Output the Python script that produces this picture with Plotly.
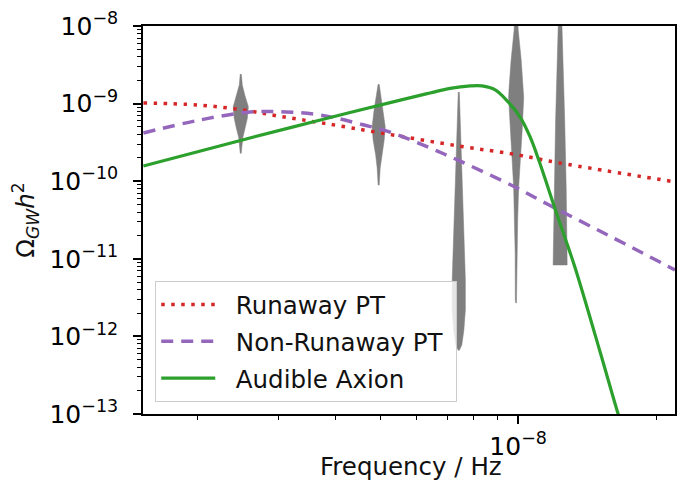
import numpy as np
import plotly.graph_objects as go

# ---------------- data ----------------
runaway_f = [1.52e-9, 2.0e-9, 2.5e-9, 3.0e-9, 3.75e-9, 5.0e-9, 7.4e-9, 9.9e-9, 1.23e-8, 2.2e-8]
runaway_omega = [1.02e-9, 9.6e-10, 8.3e-10, 6.9e-10, 5.6e-10, 4.2e-10, 2.85e-10, 2.2e-10, 1.72e-10, 9.8e-11]

nonrunaway_f = [1.52e-9, 2.02e-9, 2.6e-9, 3.11e-9, 3.57e-9, 4.0e-9, 4.56e-9, 5.25e-9,
                6.42e-9, 7.54e-9, 9.85e-9, 1.163e-8, 1.40e-8, 1.713e-8, 2.2e-8]
nonrunaway_omega = [4.18e-10, 6.15e-10, 7.8e-10, 7.8e-10, 7.34e-10, 6.52e-10, 5.38e-10, 4.3e-10,
                    2.68e-10, 1.77e-10, 8.41e-11, 5.0e-11, 2.85e-11, 1.55e-11, 7.18e-12]

axion_f = [1.52e-9, 2.5e-9, 3.7e-9, 5.53e-9, 6.42e-9, 7.10e-9, 7.86e-9, 8.34e-9, 8.91e-9, 9.51e-9,
           1.01e-8, 1.062e-8, 1.111e-8, 1.157e-8, 1.204e-8, 1.266e-8, 1.332e-8, 1.51e-8, 1.653e-8, 1.738e-8]
axion_omega = [1.57e-10, 3.4e-10, 6.15e-10, 1.11e-9, 1.37e-9, 1.57e-9, 1.69e-9, 1.69e-9, 1.50e-9, 1.05e-9,
               6.71e-10, 3.72e-10, 1.82e-10, 8.93e-11, 4.38e-11, 1.85e-11, 7.6e-12, 6.3e-13, 1.0e-13, 3.9e-14]

series_names = ["Runaway PT", "Non-Runaway PT", "Audible Axion"]
x_title = "Frequency / Hz"
y_title = "Ω<sub><i>GW</i></sub><i>h</i><sup>2</sup>"

# violins: frequency bins, log10(Omega) levels and relative density (1 = widest)
violin_freqs = [2.48e-9, 4.96e-9, 7.42e-9, 9.9e-9, 1.235e-8]
violin_levels = [
    [-8.62, -8.76, -8.89, -9.04, -9.19, -9.31, -9.44, -9.57, -9.64],
    [-8.75, -8.89, -9.08, -9.30, -9.47, -9.66, -9.83, -10.05],
    [-8.85, -9.21, -9.99, -10.50, -10.89, -11.27, -11.66, -11.92, -12.11, -12.18],
    [-7.86, -8.05, -8.44, -8.79, -8.92, -9.34, -9.73, -10.08, -10.50, -10.93, -11.53, -11.57],
    [-7.86, -8.05, -9.21, -10.08, -11.08],
]
violin_density = [
    [0.07, 0.2, 0.53, 1.0, 0.87, 0.6, 0.27, 0.13, 0.07],
    [0.07, 0.27, 0.6, 0.87, 0.73, 0.4, 0.2, 0.07],
    [0.07, 0.2, 0.4, 0.6, 0.73, 0.87, 0.87, 0.67, 0.4, 0.07],
    [0.2, 0.27, 0.67, 0.93, 1.0, 0.8, 0.53, 0.33, 0.2, 0.13, 0.11, 0.04],
    [0.2, 0.27, 0.6, 0.8, 0.93],
]

x_ticks = [1e-8]
x_ticktext = ["10<sup>−8</sup>"]
y_ticks = [1e-13, 1e-12, 1e-11, 1e-10, 1e-9, 1e-8]
y_ticktext = ["10<sup>−13</sup>", "10<sup>−12</sup>", "10<sup>−11</sup>",
              "10<sup>−10</sup>", "10<sup>−9</sup>", "10<sup>−8</sup>"]

# ---------------- styling ----------------
FONT = "DejaVu Sans"
FS = 24.5
TICK_FS = 25
VIOLIN_HALF = 0.0165  # decades of frequency at density 1
NB = "\u00a0\u00a0"  # gap between legend sample and label
fig = go.Figure()

for f0, lev, dens in zip(violin_freqs, violin_levels, violin_density):
    lev = np.array(lev)
    d = np.array(dens)
    xr = f0 * 10 ** (d * VIOLIN_HALF)
    xl = f0 * 10 ** (-d * VIOLIN_HALF)
    xs = np.concatenate([xr, xl[::-1]])
    ys = 10 ** np.concatenate([lev, lev[::-1]])
    fig.add_trace(go.Scatter(x=xs, y=ys, mode="lines", fill="toself",
                             fillcolor="#7f7f7f", line=dict(color="#7f7f7f", width=0.5),
                             showlegend=False, hoverinfo="skip"))

fig.add_trace(go.Scatter(x=runaway_f, y=runaway_omega, mode="lines", name=NB + series_names[0] + "\u00a0",
                         legendgroup="a",
                         line=dict(color="#d62728", width=3.5, dash="3.5px,6.5px", shape="spline")))
fig.add_trace(go.Scatter(x=nonrunaway_f, y=nonrunaway_omega, mode="lines", name=NB + series_names[1] + "\u00a0",
                         legendgroup="b",
                         line=dict(color="#9467bd", width=3.5, dash="12px,8px", shape="spline")))
fig.add_trace(go.Scatter(x=axion_f, y=axion_omega, mode="lines", name=NB + series_names[2] + "\u00a0",
                         legendgroup="c",
                         line=dict(color="#2ca02c", width=3.2, shape="spline")))

x_minor = [k * 1e-9 for k in range(2, 10)] + [2e-8]
y_minor = [k * 10.0 ** e for e in range(-13, -8) for k in range(2, 10)]

axis_common = dict(type="log", showline=True, mirror=True, linecolor="black", linewidth=1.6,
                   ticks="outside", ticklen=8, tickwidth=1.6, tickcolor="black",
                   showgrid=False, zeroline=False,
                   tickfont=dict(family=FONT, size=TICK_FS, color="black"))

fig.update_xaxes(range=[np.log10(1.517e-9), np.log10(2.2e-8)], tickmode="array",
                 tickvals=x_ticks, ticktext=x_ticktext, ticklabelstandoff=1,
                 minor=dict(tickmode="array", tickvals=x_minor, ticks="outside", ticklen=4.5,
                            tickwidth=1.2, tickcolor="black", showgrid=False),
                 **axis_common)
fig.update_yaxes(range=[-13, -8], tickmode="array", tickvals=y_ticks, ticktext=y_ticktext,
                 ticklabelstandoff=10,
                 minor=dict(tickmode="array", tickvals=y_minor, ticks="outside", ticklen=4.5,
                            tickwidth=1.2, tickcolor="black", showgrid=False),
                 title=dict(text=y_title, font=dict(family=FONT, size=FS, color="#111"), standoff=10),
                 **axis_common)

# x-axis title placed as a paper annotation so it sits tight under the tick label
fig.add_annotation(text=x_title, xref="paper", yref="paper", x=0.503, y=-0.136,
                   xanchor="center", yanchor="middle", showarrow=False,
                   font=dict(family=FONT, size=FS, color="#111"))

# the page body adds an 8px offset; size the figure so the axes land where the reference has them
fig.update_layout(
    width=678, height=490,
    margin=dict(l=135, r=11, t=18, b=84, autoexpand=False),
    plot_bgcolor="white", paper_bgcolor="white",
    font=dict(family=FONT, size=FS, color="#111"),
    legend=dict(x=0.023, y=0.031, xanchor="left", yanchor="bottom",
                bgcolor="rgba(255,255,255,0.8)", bordercolor="#cccccc", borderwidth=1,
                font=dict(family=FONT, size=FS, color="#111"), itemwidth=54,
                tracegroupgap=2, traceorder="grouped"),
)

fig.write_html("out.html")
